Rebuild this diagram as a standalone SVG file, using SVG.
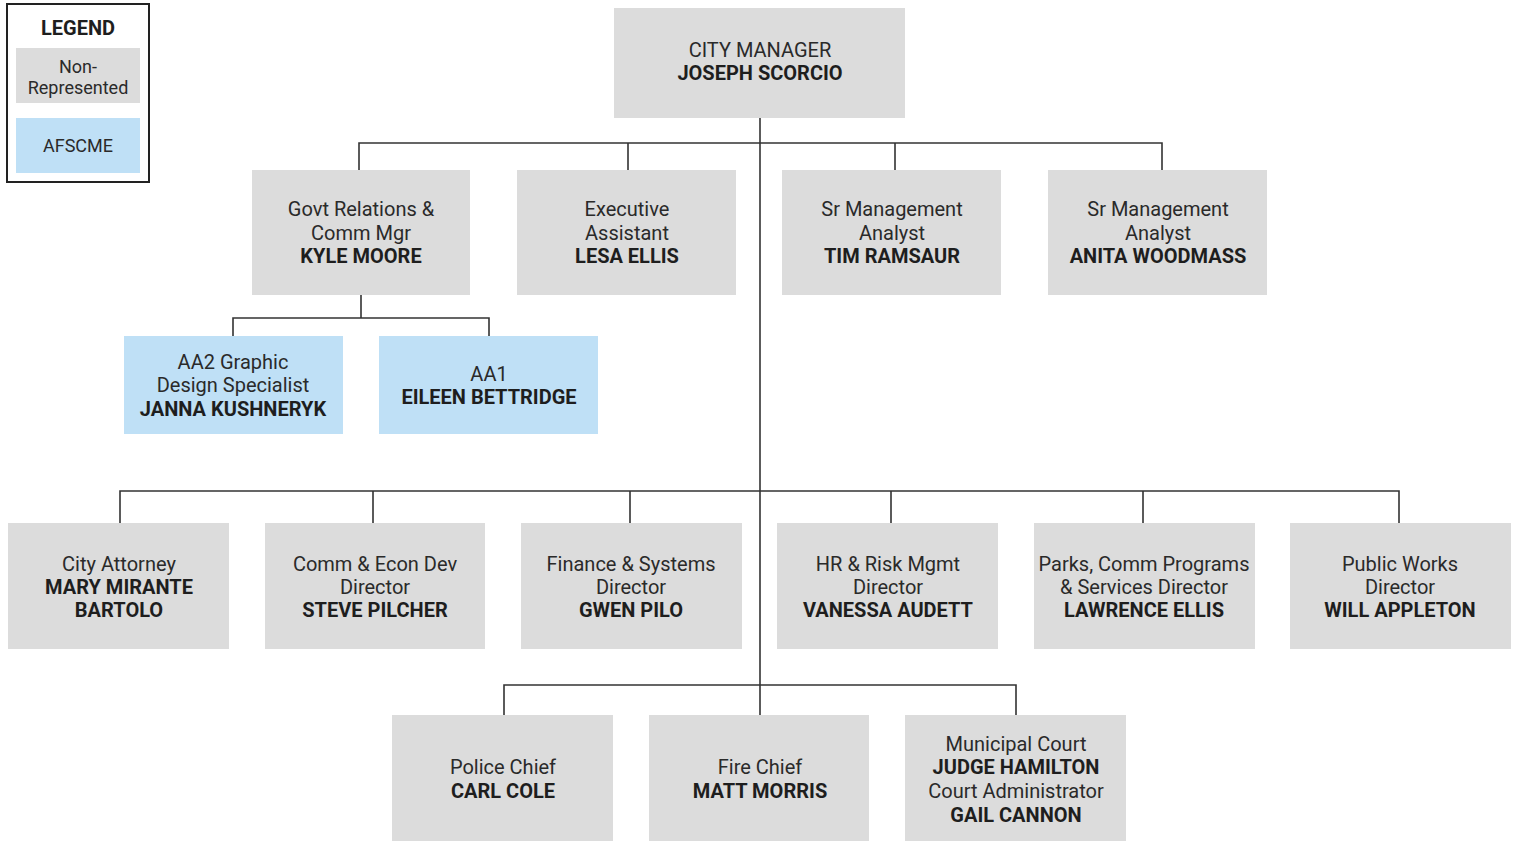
<svg xmlns="http://www.w3.org/2000/svg" width="1517" height="841" viewBox="0 0 1517 841">
  <style>
    .box { fill: #dcdcdc; }
    .afscme { fill: #bfe0f6; }
    .link { fill: none; stroke: #333; stroke-width: 1.6; }
    text { font-family: Roboto, "Liberation Sans", sans-serif; font-size: 20px; fill: #2a2a2a; text-anchor: middle; }
    .b { font-weight: bold; fill: #1e1e1e; }
    .key { font-size: 18px; }
  </style>
  <rect x="0" y="0" width="1517" height="841" fill="#ffffff"/>

  <!-- legend -->
  <g id="legend">
    <rect x="7" y="4" width="142" height="178" fill="#fff" stroke="#222" stroke-width="2"/>
    <text x="78" y="35" class="b">LEGEND</text>
    <rect x="16" y="48" width="124" height="55" class="box"/>
    <text x="78" y="73" class="key">Non-</text>
    <text x="78" y="94" class="key">Represented</text>
    <rect x="16" y="118" width="124" height="55" class="afscme"/>
    <text x="78" y="152" class="key">AFSCME</text>
  </g>

  <!-- connectors -->
  <g id="connectors">
    <path class="link" d="M760 118 V715"/>
    <path class="link" d="M359 170 V143 H1162 V170 M628 143 V170 M895 143 V170"/>
    <path class="link" d="M361 295 V318 M233 336 V318 H489 V336"/>
    <path class="link" d="M120 523 V491 H1399 V523 M373 491 V523 M630 491 V523 M891 491 V523 M1143 491 V523"/>
    <path class="link" d="M504 715 V685 H1016 V715"/>
  </g>

  <g id="city-manager">
    <rect x="614" y="8" width="291" height="110" class="box"/>
    <text x="760" y="57">CITY MANAGER</text>
    <text x="760" y="80" class="b">JOSEPH SCORCIO</text>
  </g>

  <g id="govt-relations">
    <rect x="252" y="170" width="218" height="125" class="box"/>
    <text x="361" y="216">Govt Relations &amp;</text>
    <text x="361" y="240">Comm Mgr</text>
    <text x="361" y="263" class="b">KYLE MOORE</text>
  </g>
  <g id="exec-assistant">
    <rect x="517" y="170" width="219" height="125" class="box"/>
    <text x="627" y="216">Executive</text>
    <text x="627" y="240">Assistant</text>
    <text x="627" y="263" class="b">LESA ELLIS</text>
  </g>
  <g id="analyst-ramsaur">
    <rect x="782" y="170" width="219" height="125" class="box"/>
    <text x="892" y="216">Sr Management</text>
    <text x="892" y="240">Analyst</text>
    <text x="892" y="263" class="b">TIM RAMSAUR</text>
  </g>
  <g id="analyst-woodmass">
    <rect x="1048" y="170" width="219" height="125" class="box"/>
    <text x="1158" y="216">Sr Management</text>
    <text x="1158" y="240">Analyst</text>
    <text x="1158" y="263" class="b">ANITA WOODMASS</text>
  </g>

  <g id="graphic-design">
    <rect x="124" y="336" width="219" height="98" class="afscme"/>
    <text x="233" y="369">AA2 Graphic</text>
    <text x="233" y="392">Design Specialist</text>
    <text x="233" y="416" class="b">JANNA KUSHNERYK</text>
  </g>
  <g id="aa1">
    <rect x="379" y="336" width="219" height="98" class="afscme"/>
    <text x="489" y="381">AA1</text>
    <text x="489" y="404" class="b">EILEEN BETTRIDGE</text>
  </g>

  <g id="city-attorney">
    <rect x="8" y="523" width="221" height="126" class="box"/>
    <text x="119" y="571">City Attorney</text>
    <text x="119" y="594" class="b">MARY MIRANTE</text>
    <text x="119" y="617" class="b">BARTOLO</text>
  </g>
  <g id="comm-econ">
    <rect x="265" y="523" width="220" height="126" class="box"/>
    <text x="375" y="571">Comm &amp; Econ Dev</text>
    <text x="375" y="594">Director</text>
    <text x="375" y="617" class="b">STEVE PILCHER</text>
  </g>
  <g id="finance">
    <rect x="521" y="523" width="221" height="126" class="box"/>
    <text x="631" y="571">Finance &amp; Systems</text>
    <text x="631" y="594">Director</text>
    <text x="631" y="617" class="b">GWEN PILO</text>
  </g>
  <g id="hr-risk">
    <rect x="777" y="523" width="221" height="126" class="box"/>
    <text x="888" y="571">HR &amp; Risk Mgmt</text>
    <text x="888" y="594">Director</text>
    <text x="888" y="617" class="b">VANESSA AUDETT</text>
  </g>
  <g id="parks">
    <rect x="1034" y="523" width="221" height="126" class="box"/>
    <text x="1144" y="571">Parks, Comm Programs</text>
    <text x="1144" y="594">&amp; Services Director</text>
    <text x="1144" y="617" class="b">LAWRENCE ELLIS</text>
  </g>
  <g id="public-works">
    <rect x="1290" y="523" width="221" height="126" class="box"/>
    <text x="1400" y="571">Public Works</text>
    <text x="1400" y="594">Director</text>
    <text x="1400" y="617" class="b">WILL APPLETON</text>
  </g>

  <g id="police">
    <rect x="392" y="715" width="221" height="126" class="box"/>
    <text x="503" y="774">Police Chief</text>
    <text x="503" y="798" class="b">CARL COLE</text>
  </g>
  <g id="fire">
    <rect x="649" y="715" width="220" height="126" class="box"/>
    <text x="760" y="774">Fire Chief</text>
    <text x="760" y="798" class="b">MATT MORRIS</text>
  </g>
  <g id="court">
    <rect x="905" y="715" width="221" height="126" class="box"/>
    <text x="1016" y="751">Municipal Court</text>
    <text x="1016" y="774" class="b">JUDGE HAMILTON</text>
    <text x="1016" y="798">Court Administrator</text>
    <text x="1016" y="822" class="b">GAIL CANNON</text>
  </g>
</svg>
